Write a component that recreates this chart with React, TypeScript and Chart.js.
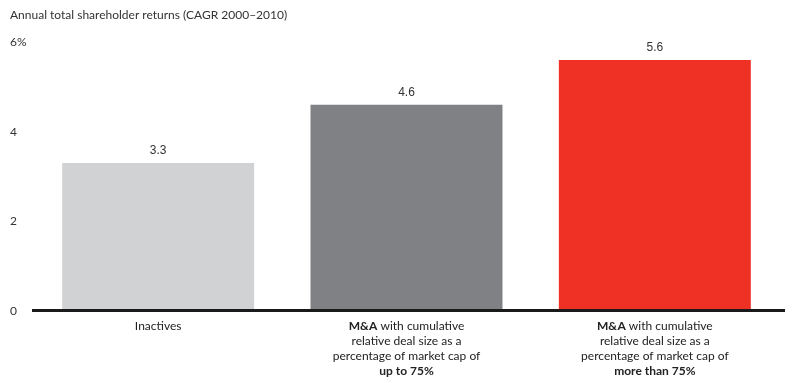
import React, { useEffect, useRef } from "react";
import { Chart, registerables } from "chart.js";

Chart.register(...registerables);

const categories = ["Inactives", "M&A up to 75%", "M&A more than 75%"];
const values = [3.3, 4.6, 5.6];
const barColors = ["#d1d2d4", "#808184", "#ee3124"];
const yTicks = [0, 2, 4, 6];
const titleText = "Annual total shareholder returns (CAGR 2000\u20132010)";
// each category label: lines of [text, bold] segments
const categoryLines: [string, boolean][][][] = [
  [[["Inactives", false]]],
  [
    [["M&A", true], [" with cumulative", false]],
    [["relative deal size as a", false]],
    [["percentage of market cap of", false]],
    [["up to 75%", true]],
  ],
  [
    [["M&A", true], [" with cumulative", false]],
    [["relative deal size as a", false]],
    [["percentage of market cap of", false]],
    [["more than 75%", true]],
  ],
];

const FONT = "Lato, 'Open Sans', sans-serif";

const customPlugin = {
  id: "custom",
  afterDraw(chart: any) {
    const ctx = chart.ctx as CanvasRenderingContext2D;
    const x = chart.scales.x;
    const y = chart.scales.y;
    ctx.save();
    // title
    ctx.fillStyle = "#333";
    ctx.font = `12px ${FONT}`;
    ctx.textAlign = "left";
    ctx.textBaseline = "middle";
    ctx.fillText(titleText, 10, 15);
    // axis line
    const y0 = y.getPixelForValue(0);
    ctx.strokeStyle = "#1a1a1a";
    ctx.lineWidth = 3;
    ctx.beginPath();
    ctx.moveTo(32, y0 - 0.5);
    ctx.lineTo(785, y0 - 0.5);
    ctx.stroke();
    // value labels
    const meta = chart.getDatasetMeta(0);
    ctx.font = `12px Arial, 'Liberation Sans', sans-serif`;
    ctx.fillStyle = "#333";
    ctx.textAlign = "center";
    meta.data.forEach((bar: any, i: number) => {
      ctx.fillText(values[i].toFixed(1), bar.x, bar.y - 12);
    });
    // category labels
    categoryLines.forEach((lines, i) => {
      const cx = x.getPixelForValue(i);
      lines.forEach((segs, li) => {
        const ly = y0 + 15 + li * 15;
        let total = 0;
        segs.forEach(([t, b]) => {
          ctx.font = `${b ? "bold " : ""}12px ${FONT}`;
          total += ctx.measureText(t).width;
        });
        let sx = cx - total / 2;
        ctx.textAlign = "left";
        segs.forEach(([t, b]) => {
          ctx.font = `${b ? "bold " : ""}12px ${FONT}`;
          ctx.fillStyle = "#222";
          ctx.fillText(t, sx, ly);
          sx += ctx.measureText(t).width;
        });
      });
    });
    ctx.restore();
  },
};

export default function App() {
  const ref = useRef<HTMLCanvasElement>(null);
  useEffect(() => {
    const chart = new Chart(ref.current!, {
      type: "bar",
      data: {
        labels: categories,
        datasets: [
          {
            data: values,
            backgroundColor: barColors,
            barPercentage: 0.773,
            categoryPercentage: 1,
          },
        ],
      },
      options: {
        responsive: false,
        animation: false,
        layout: { padding: { top: 42, right: 14, left: 10, bottom: 0 } },
        plugins: { legend: { display: false }, tooltip: { enabled: false } },
        scales: {
          x: {
            grid: { display: false },
            border: { display: false },
            ticks: { display: false },
            afterFit: (s: any) => {
              s.height = 72;
            },
          },
          y: {
            min: 0,
            max: 6,
            grid: { display: false },
            border: { display: false },
            afterBuildTicks: (s: any) => {
              s.ticks = yTicks.map((v) => ({ value: v }));
            },
            afterFit: (s: any) => {
              s.width = 24;
            },
            ticks: {
              crossAlign: "far",
              padding: 0,
              color: "#333",
              font: { family: FONT, size: 12 },
              callback: (v: any) => (v === 6 ? "6%" : String(v)),
            },
          },
        },
      },
      plugins: [customPlugin],
    });
    return () => chart.destroy();
  }, []);
  return (
    <div style={{ position: "fixed", left: 0, top: 0, width: 793, height: 383, background: "#fff" }}>
      <canvas ref={ref} width={793} height={383} />
    </div>
  );
}
